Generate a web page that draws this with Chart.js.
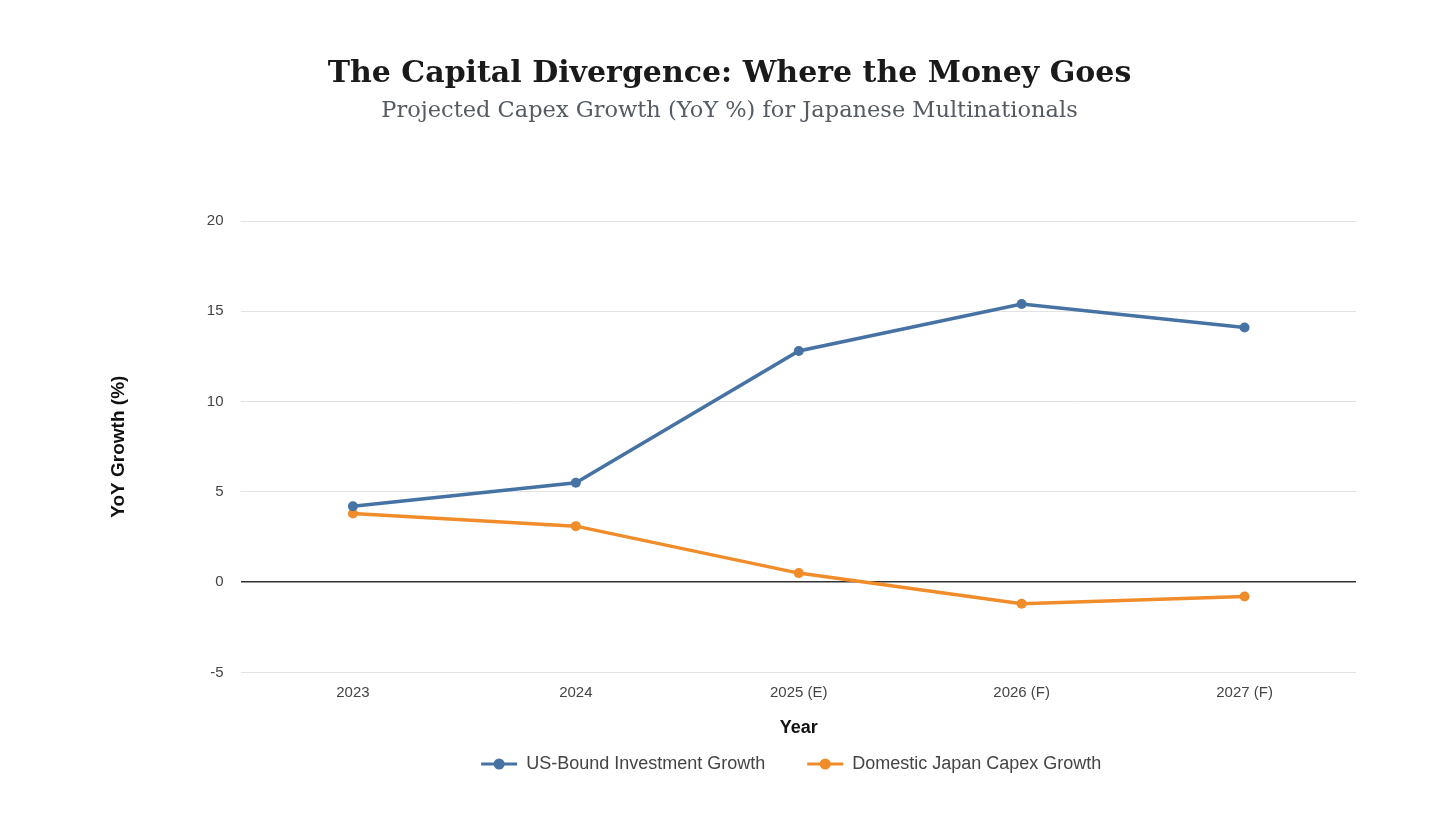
<!DOCTYPE html>
<html>
<head>
<meta charset="utf-8">
<script src="https://cdn.jsdelivr.net/npm/chart.js@4"></script>
<style>
  html, body { margin: 0; padding: 0; background: #fff; }
  #wrap { width: 1456px; height: 819px; }
</style>
</head>
<body>
<div id="wrap"><canvas id="capexChart"></canvas></div>
<script>
const years = ["2023", "2024", "2025 (E)", "2026 (F)", "2027 (F)"];
const usBound = [4.2, 5.5, 12.8, 15.4, 14.1];
const domesticJapan = [3.8, 3.1, 0.5, -1.2, -0.8];
const yTicks = [-5, 0, 5, 10, 15, 20];

const blue = "#4672a4";
const orange = "#f08c2a";
const sans = "'Liberation Sans', Arial, sans-serif";

// puts a dot in the middle of each legend line, like the original
const legendDots = {
    id: "legendDots",
    afterDraw(chart) {
        const legend = chart.legend;
        if (!legend || !legend.legendHitBoxes) return;
        const c = chart.ctx;
        legend.legendHitBoxes.forEach((box, i) => {
            const ds = chart.data.datasets[i];
            const cx = box.left + legend.options.labels.boxWidth / 2;
            const cy = box.top + box.height / 2;
            c.save();
            c.fillStyle = ds.borderColor;
            c.beginPath();
            c.arc(cx, cy, 5.5, 0, Math.PI * 2);
            c.fill();
            c.restore();
        });
    }
};

const ctx = document.getElementById("capexChart").getContext("2d");
const capexChart = new Chart(ctx, {
    type: "line",
    data: {
        labels: years,
        datasets: [{
            label: "US-Bound Investment Growth",
            data: usBound,
            borderColor: blue,
            backgroundColor: blue,
            borderWidth: 3.5,
            pointRadius: 5,
            pointBackgroundColor: blue,
            pointBorderWidth: 0,
            tension: 0
        }, {
            label: "Domestic Japan Capex Growth",
            data: domesticJapan,
            borderColor: orange,
            backgroundColor: orange,
            borderWidth: 3.5,
            pointRadius: 5,
            pointBackgroundColor: orange,
            pointBorderWidth: 0,
            tension: 0
        }]
    },
    options: {
        responsive: true,
        maintainAspectRatio: false,
        animation: false,
        layout: { padding: { left: 103, right: 100, top: 56, bottom: 36 } },
        plugins: {
            title: {
                display: true,
                text: "The Capital Divergence: Where the Money Goes",
                color: "#1a1a1a",
                font: { family: "'DejaVu Serif', serif", size: 30, weight: "bold" },
                padding: { top: 0, bottom: 6 }
            },
            subtitle: {
                display: true,
                text: "Projected Capex Growth (YoY %) for Japanese Multinationals",
                color: "#555b63",
                font: { family: "'DejaVu Serif', serif", size: 22.5 },
                padding: { bottom: 96 }
            },
            legend: {
                position: "bottom",
                fullSize: false,
                labels: {
                    boxWidth: 36,
                    boxHeight: 3,
                    padding: 12,
                    color: "#444",
                    font: { family: sans, size: 18 },
                    generateLabels(chart) {
                        return chart.data.datasets.map((ds, i) => ({
                            // extra spaces keep the wider gap between items and shift the row a little left
                            text: i === 0 ? ds.label + "      " : ds.label + "   ",
                            fillStyle: ds.borderColor,
                            strokeStyle: ds.borderColor,
                            lineWidth: 0,
                            fontColor: "#444",
                            hidden: !chart.isDatasetVisible(i),
                            datasetIndex: i
                        }));
                    }
                }
            },
            tooltip: { enabled: false }
        },
        scales: {
            x: {
                offset: true,
                grid: { display: false },
                border: { display: false },
                ticks: {
                    color: "#444",
                    padding: 3,
                    font: { family: sans, size: 15 }
                },
                title: {
                    display: true,
                    text: "Year",
                    color: "#111",
                    padding: { top: 13, bottom: 4 },
                    font: { family: sans, size: 18, weight: "bold" }
                }
            },
            y: {
                min: -5,
                max: 20,
                afterBuildTicks(axis) {
                    axis.ticks = yTicks.map(v => ({ value: v }));
                },
                border: { display: false },
                grid: {
                    drawTicks: false,
                    color: c => c.tick && c.tick.value === 0 ? "#333" : "#e3e3e3",
                    lineWidth: c => c.tick && c.tick.value === 0 ? 1.5 : 1
                },
                ticks: {
                    color: "#444",
                    padding: 18,
                    font: { family: sans, size: 15 }
                },
                title: {
                    display: true,
                    text: "YoY Growth (%)",
                    color: "#111",
                    padding: { bottom: 59 },
                    font: { family: sans, size: 19, weight: "bold" }
                }
            }
        }
    },
    plugins: [legendDots]
});
</script>
</body>
</html>
